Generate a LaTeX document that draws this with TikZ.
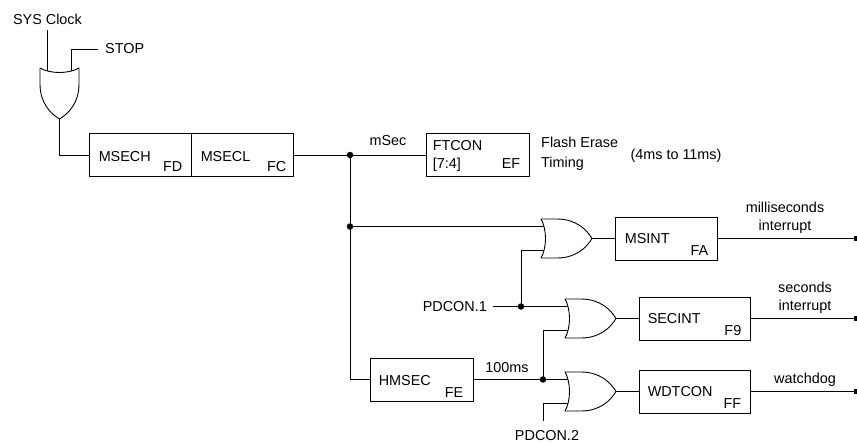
\documentclass[tikz,border=0pt]{standalone}
\usepackage{fontspec}
\setmainfont{Liberation Sans}
\usetikzlibrary{arrows.meta}
\tikzset{
  wire/.style={line width=0.9pt, line join=round},
  reg/.style={draw, line width=0.9pt, inner sep=0pt, minimum height=43pt},
  txt/.style={inner sep=0pt, font=\fontsize{14.4}{17}\selectfont},
  nm/.style={txt, anchor=base west},
  sfx/.style={txt, anchor=base east},
  dot/.style={circle, fill, inner sep=0pt, minimum size=6.5pt},
  endmark/.style={wire, -{Square[length=3pt,width=4.5pt]}},
  orgate/.pic={
    \draw[wire] (0,-19.5) -- (16,-19.5) .. controls (34,-19.5) and (45,-10) .. (51,0)
      .. controls (45,10) and (34,19.5) .. (16,19.5) -- (0,19.5)
      .. controls (6,9) and (6,-9) .. (0,-19.5) -- cycle;
    \coordinate (-in1) at (2.9,-12);
    \coordinate (-in2) at (2.9,12);
    \coordinate (-out) at (51,0);
  }
}
\begin{document}
\begin{tikzpicture}[x=1pt,y=-1pt]
\useasboundingbox (0,0) rectangle (857,442);

% input gate
\node[txt] (sysclk) at (47.5,19) {SYS Clock};
\node[txt, anchor=west] (stop) at (105,49) {STOP};
\pic[rotate=-90] (g0) at (59.5,68) {orgate};
\coordinate (sysclkw) at ([yshift=-6pt]sysclk.south);
\draw[wire] (g0-in2) -- (g0-in2 |- sysclkw);
\draw[wire] (g0-in1) |- ([xshift=-7pt]stop.west);

% MSECH / MSECL
\node[reg, minimum width=102pt] (msech) at (140,155) {};
\node[reg, minimum width=102pt] (msecl) at (242,155) {};
\node[nm] (msech-n) at ([shift={(10,28)}]msech.north west) {MSECH};
\node[sfx] (msech-s) at ([shift={(-9,-5)}]msech.south east) {FD};
\node[nm] (msecl-n) at ([shift={(10,28)}]msecl.north west) {MSECL};
\node[sfx] (msecl-s) at ([shift={(-7,-5)}]msecl.south east) {FC};
\draw[wire] (g0-out) |- (msech.west);

% FTCON
\node[reg, minimum width=103pt] (ftcon) at (477.5,155) {};
\node[nm] (ftcon-n) at ([shift={(7,17)}]ftcon.north west) {FTCON};
\node[nm] (ftcon-b) at ([shift={(7,-8)}]ftcon.south west) {[7:4]};
\node[sfx] (ftcon-s) at ([shift={(-9,-8)}]ftcon.south east) {EF};
\node[dot] (j1) at (350,155) {};
\draw[wire] (msecl.east) -- (ftcon.west);
\node[txt, anchor=base] (msec) at (388,145) {mSec};
\node[txt, anchor=base west] (fe1) at (541,147) {Flash Erase};
\node[txt, anchor=base west] (fe2) at (541,167) {Timing};
\node[txt, anchor=base] (range) at (676,159) {(4ms to 11ms)};

% gates
\pic (g1) at (541,238.5) {orgate};
\pic (g2) at (565,318.5) {orgate};
\pic (g3) at (565,391.5) {orgate};

% registers on the right
\node[reg, minimum width=102pt] (msint) at (666,238.5) {};
\node[nm] (msint-n) at ([shift={(10,27)}]msint.north west) {MSINT};
\node[sfx] (msint-s) at ([shift={(-9,-5)}]msint.south east) {FA};
\node[reg, minimum width=111pt] (secint) at (694.5,318.5) {};
\node[nm] (secint-n) at ([shift={(9,27)}]secint.north west) {SECINT};
\node[sfx] (secint-s) at ([shift={(-9,-5)}]secint.south east) {F9};
\node[reg, minimum width=111pt] (wdtcon) at (694.5,391.5) {};
\node[nm] (wdtcon-n) at ([shift={(9,27)}]wdtcon.north west) {WDTCON};
\node[sfx] (wdtcon-s) at ([shift={(-9,-5)}]wdtcon.south east) {FF};

% HMSEC
\node[reg, minimum width=103pt] (hmsec) at (421.5,379.5) {};
\node[nm] (hmsec-n) at ([shift={(9,28)}]hmsec.north west) {HMSEC};
\node[sfx] (hmsec-s) at ([shift={(-10,-4)}]hmsec.south east) {FE};

% junctions
\coordinate (j2p) at (j1 |- g1-in1);
\node[dot] (j2) at (j2p) {};
\node[txt, anchor=east] (pd1) at (487,306.5) {PDCON.1};
\coordinate (j3p) at (521,0 |- g2-in1);
\node[dot] (j3) at (j3p) {};
\coordinate (j4p) at (543,0 |- g3-in1);
\node[dot] (j4) at (j4p) {};
\node[txt, anchor=base] (pd2) at (547,440) {PDCON.2};

% wiring
\draw[wire] (j1.center) |- (hmsec.west);
\draw[wire] (j2.center) -- (g1-in1);
\draw[wire] (g1-in2) -| (j3.center);
\draw[wire] ([xshift=6pt]pd1.east) -- (g2-in1);
\draw[wire] (hmsec.east) -- (g3-in1);
\draw[wire] (g2-in2) -| (j4.center);
\draw[wire] (g3-in2) -| ([shift={(-4,-9)}]pd2.north);
\node[txt, anchor=base] (ms100) at (507,372) {100ms};

% outputs
\draw[wire] (g1-out) -- (msint.west);
\draw[wire] (g2-out) -- (secint.west);
\draw[wire] (g3-out) -- (wdtcon.west);
\coordinate (e1) at (857,238.5);
\coordinate (e2) at (857,318.5);
\coordinate (e3) at (857,391.5);
\draw[endmark] (msint.east) -- (e1);
\draw[endmark] (secint.east) -- (e2);
\draw[endmark] (wdtcon.east) -- (e3);
\node[txt, anchor=base] (ms1) at (785,212.5) {milliseconds};
\node[txt, anchor=base] (ms2) at (785,230.5) {interrupt};
\node[txt, anchor=base] (s1) at (805,292.5) {seconds};
\node[txt, anchor=base] (s2) at (805,310.5) {interrupt};
\node[txt, anchor=base] (wd) at (805,383.5) {watchdog};
\end{tikzpicture}
\end{document}
